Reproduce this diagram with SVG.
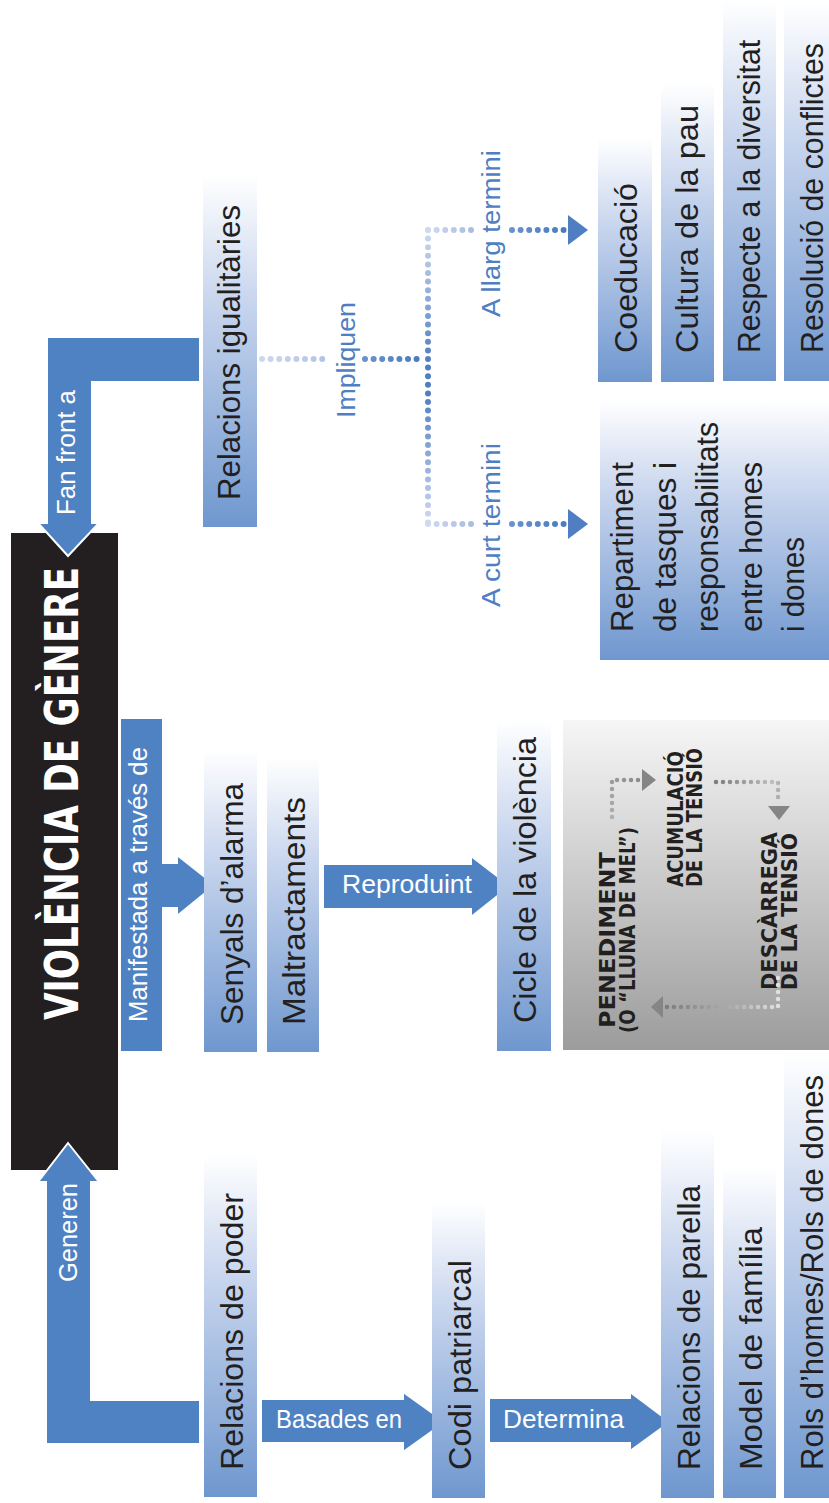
<svg xmlns="http://www.w3.org/2000/svg" width="829" height="1503" viewBox="0 0 829 1503">
<defs>
<linearGradient id="boxg" x1="0" y1="0" x2="0" y2="1">
<stop offset="0" stop-color="#ffffff"/>
<stop offset="0.35" stop-color="#c9d6ee"/>
<stop offset="1" stop-color="#6f97cf"/>
</linearGradient>
<linearGradient id="grayg" x1="0" y1="0" x2="0" y2="1">
<stop offset="0" stop-color="#f6f6f6"/>
<stop offset="1" stop-color="#9c9c9c"/>
</linearGradient>
<linearGradient id="vdots" gradientUnits="userSpaceOnUse" x1="0" y1="230" x2="0" y2="524">
<stop offset="0" stop-color="#d0daef"/>
<stop offset="0.45" stop-color="#4f7ec2"/>
<stop offset="0.55" stop-color="#4f7ec2"/>
<stop offset="1" stop-color="#d0daef"/>
</linearGradient>
<linearGradient id="hlight" gradientUnits="userSpaceOnUse" x1="262" y1="0" x2="325" y2="0">
<stop offset="0" stop-color="#cdd8ef"/>
<stop offset="1" stop-color="#b2c4e6"/>
</linearGradient>
<linearGradient id="hdark" gradientUnits="userSpaceOnUse" x1="365" y1="0" x2="420" y2="0">
<stop offset="0" stop-color="#6a91cc"/>
<stop offset="1" stop-color="#4a7bc0"/>
</linearGradient>
<linearGradient id="hlight2" gradientUnits="userSpaceOnUse" x1="428" y1="0" x2="472" y2="0">
<stop offset="0" stop-color="#d0daef"/>
<stop offset="1" stop-color="#a9bde3"/>
</linearGradient>
<linearGradient id="hdark2" gradientUnits="userSpaceOnUse" x1="510" y1="0" x2="565" y2="0">
<stop offset="0" stop-color="#6c93cd"/>
<stop offset="1" stop-color="#4a7bc0"/>
</linearGradient>
<linearGradient id="g1" gradientUnits="userSpaceOnUse" x1="600" y1="817" x2="640" y2="780">
<stop offset="0" stop-color="#b5b5b5"/>
<stop offset="1" stop-color="#8a8a8a"/>
</linearGradient>
<linearGradient id="g2" gradientUnits="userSpaceOnUse" x1="716" y1="782" x2="790" y2="803">
<stop offset="0" stop-color="#7d7d7d"/>
<stop offset="0.7" stop-color="#bdbdbd"/>
<stop offset="1" stop-color="#9a9a9a"/>
</linearGradient>
<linearGradient id="g3" gradientUnits="userSpaceOnUse" x1="665" y1="0" x2="778" y2="0">
<stop offset="0" stop-color="#7a7a7a"/>
<stop offset="0.6" stop-color="#b0b0b0"/>
<stop offset="1" stop-color="#e0e0e0"/>
</linearGradient>
<style>
.box{fill:url(#boxg)}
.lbl{font-family:"Liberation Sans","Open Sans",sans-serif;font-size:32px;fill:#231f20}
.wl{font-family:"Liberation Sans","Open Sans",sans-serif;font-size:25px;fill:#ffffff}
.bl{font-family:"Liberation Sans","Open Sans",sans-serif;font-size:25px;fill:#4f7ec2}
.arr{fill:#4f82c2;stroke:#ffffff;stroke-width:2;stroke-linejoin:miter}
.dot{fill:none;stroke-width:6;stroke-linecap:round;stroke-dasharray:0 8.6}
.gdot{fill:none;stroke-width:4.5;stroke-linecap:round;stroke-dasharray:0 7}
.hw{font-family:"DejaVu Sans Condensed","DejaVu Sans",sans-serif;font-size:21px;font-weight:bold;fill:#231f20}
</style>
</defs>
<rect width="829" height="1503" fill="#ffffff"/>

<g id="title">
<rect x="11" y="533" width="107" height="637" fill="#231f20"/>
<text transform="translate(78,1020) rotate(-90)" font-family="DejaVu Sans Condensed, DejaVu Sans, sans-serif" font-size="46" font-weight="bold" fill="#ffffff" textLength="453" lengthAdjust="spacingAndGlyphs">VIOLÈNCIA DE GÈNERE</text>
</g>

<g id="connectors">
<polygon class="arr" points="200,337 200,382 92,382 92,523 99,523 68,556 38,523 47,523 47,337"/>
<text class="wl" transform="translate(75,515) rotate(-90)" textLength="125" lengthAdjust="spacingAndGlyphs">Fan front a</text>
<polygon class="arr" points="200,1400 200,1444 46,1444 46,1182 38,1182 68,1143 99,1182 91,1182 91,1400"/>
<text class="wl" transform="translate(77,1282) rotate(-90)" textLength="99" lengthAdjust="spacingAndGlyphs">Generen</text>
<polygon class="arr" points="120,718 163,718 163,863 177,863 177,855 215,885 177,916 177,908 163,908 163,1052 120,1052"/>
<text class="wl" transform="translate(147,1022) rotate(-90)" textLength="275" lengthAdjust="spacingAndGlyphs">Manifestada a través de</text>
<polygon class="arr" points="261,1399 403,1399 403,1392 445,1422 403,1452 403,1443 261,1443"/>
<text class="wl" x="276" y="1428" textLength="126" lengthAdjust="spacingAndGlyphs">Basades en</text>
<polygon class="arr" points="489,1398 630,1398 630,1392 670,1422 630,1451 630,1443 489,1443"/>
<text class="wl" x="503" y="1428" textLength="121" lengthAdjust="spacingAndGlyphs">Determina</text>
<polygon class="arr" points="323,864 471,864 471,856 510,886 471,917 471,909 323,909"/>
<text class="wl" x="342" y="893" textLength="130" lengthAdjust="spacingAndGlyphs">Reproduint</text>

<line class="dot" x1="262" y1="359" x2="326" y2="359" stroke="url(#hlight)"/>
<text class="bl" transform="translate(355,418) rotate(-90)" textLength="116" lengthAdjust="spacingAndGlyphs">Impliquen</text>
<line class="dot" x1="365" y1="359" x2="425" y2="359" stroke="url(#hdark)"/>
<line class="dot" x1="428" y1="230" x2="428" y2="525" stroke="url(#vdots)"/>
<line class="dot" x1="428" y1="230" x2="472" y2="230" stroke="url(#hlight2)"/>
<line class="dot" x1="428" y1="524" x2="472" y2="524" stroke="url(#hlight2)"/>
<text class="bl" transform="translate(500,317) rotate(-90)" textLength="167" lengthAdjust="spacingAndGlyphs">A llarg termini</text>
<text class="bl" transform="translate(500,607) rotate(-90)" textLength="164" lengthAdjust="spacingAndGlyphs">A curt termini</text>
<line class="dot" x1="512" y1="230" x2="564" y2="230" stroke="url(#hdark2)"/>
<line class="dot" x1="512" y1="524" x2="564" y2="524" stroke="url(#hdark2)"/>
<polygon points="568,215 588,230 568,245" fill="#4f7ec2"/>
<polygon points="568,509 588,524 568,539" fill="#4f7ec2"/>
</g>

<g id="n-igualitaries">
<rect class="box" x="203" y="175" width="54" height="352"/>
<text class="lbl" transform="translate(240,500) rotate(-90)" textLength="295" lengthAdjust="spacingAndGlyphs">Relacions igualitàries</text>
</g>
<g id="n-poder">
<rect class="box" x="204" y="1155" width="53" height="342"/>
<text class="lbl" transform="translate(243,1470) rotate(-90)" textLength="277" lengthAdjust="spacingAndGlyphs">Relacions de poder</text>
</g>
<g id="n-codi">
<rect class="box" x="432" y="1202" width="53" height="296"/>
<text class="lbl" transform="translate(471,1470) rotate(-90)" textLength="210" lengthAdjust="spacingAndGlyphs">Codi patriarcal</text>
</g>
<g id="n-parella">
<rect class="box" x="661" y="1130" width="53" height="368"/>
<text class="lbl" transform="translate(700,1470) rotate(-90)" textLength="285" lengthAdjust="spacingAndGlyphs">Relacions de parella</text>
</g>
<g id="n-familia">
<rect class="box" x="723" y="1168" width="53" height="330"/>
<text class="lbl" transform="translate(762,1470) rotate(-90)" textLength="243" lengthAdjust="spacingAndGlyphs">Model de família</text>
</g>
<g id="n-rols">
<rect class="box" x="784" y="1053" width="45" height="445"/>
<text class="lbl" transform="translate(823,1470) rotate(-90)" textLength="395" lengthAdjust="spacingAndGlyphs">Rols d’homes/Rols de dones</text>
</g>
<g id="n-senyals">
<rect class="box" x="204" y="750" width="53" height="302"/>
<text class="lbl" transform="translate(243,1025) rotate(-90)" textLength="242" lengthAdjust="spacingAndGlyphs">Senyals d’alarma</text>
</g>
<g id="n-maltractaments">
<rect class="box" x="267" y="757" width="52" height="295"/>
<text class="lbl" transform="translate(305,1025) rotate(-90)" textLength="228" lengthAdjust="spacingAndGlyphs">Maltractaments</text>
</g>
<g id="n-cicle">
<rect class="box" x="497" y="720" width="54" height="331"/>
<text class="lbl" transform="translate(536,1023) rotate(-90)" textLength="286" lengthAdjust="spacingAndGlyphs">Cicle de la violència</text>
</g>
<g id="n-coeducacio">
<rect class="box" x="598" y="138" width="54" height="244"/>
<text class="lbl" transform="translate(637,353) rotate(-90)" textLength="170" lengthAdjust="spacingAndGlyphs">Coeducació</text>
</g>
<g id="n-pau">
<rect class="box" x="661" y="83" width="53" height="299"/>
<text class="lbl" transform="translate(698,353) rotate(-90)" textLength="248" lengthAdjust="spacingAndGlyphs">Cultura de la pau</text>
</g>
<g id="n-diversitat">
<rect class="box" x="723" y="0" width="53" height="381"/>
<text class="lbl" transform="translate(760,353) rotate(-90)" textLength="313" lengthAdjust="spacingAndGlyphs">Respecte a la diversitat</text>
</g>
<g id="n-conflictes">
<rect class="box" x="784" y="3" width="45" height="378"/>
<text class="lbl" transform="translate(823,353) rotate(-90)" textLength="310" lengthAdjust="spacingAndGlyphs">Resolució de conflictes</text>
</g>
<g id="n-repartiment">
<rect class="box" x="600" y="400" width="229" height="260"/>
<text class="lbl" transform="translate(633,632) rotate(-90)" textLength="170" lengthAdjust="spacingAndGlyphs">Repartiment</text>
<text class="lbl" transform="translate(676,632) rotate(-90)" textLength="170" lengthAdjust="spacingAndGlyphs">de tasques i</text>
<text class="lbl" transform="translate(718,632) rotate(-90)" textLength="210" lengthAdjust="spacingAndGlyphs">responsabilitats</text>
<text class="lbl" transform="translate(762,632) rotate(-90)" textLength="170" lengthAdjust="spacingAndGlyphs">entre homes</text>
<text class="lbl" transform="translate(804,632) rotate(-90)" textLength="95" lengthAdjust="spacingAndGlyphs">i dones</text>
</g>

<g id="cycle">
<rect x="563" y="720" width="266" height="330" fill="url(#grayg)"/>
<text class="hw" transform="translate(615,1028) rotate(-90)" textLength="176" lengthAdjust="spacingAndGlyphs">PENEDIMENT</text>
<text class="hw" transform="translate(635,1033) rotate(-90)" textLength="206" lengthAdjust="spacingAndGlyphs">(O “LLUNA DE MEL”)</text>
<text class="hw" transform="translate(683,887) rotate(-90)" textLength="136" lengthAdjust="spacingAndGlyphs">ACUMULACIÓ</text>
<text class="hw" transform="translate(702,887) rotate(-90)" textLength="139" lengthAdjust="spacingAndGlyphs">DE LA TENSIÓ</text>
<text class="hw" transform="translate(777,990) rotate(-90)" textLength="158" lengthAdjust="spacingAndGlyphs">DESCÀRREGA</text>
<text class="hw" transform="translate(797,990) rotate(-90)" textLength="157" lengthAdjust="spacingAndGlyphs">DE LA TENSIÓ</text>
<polyline class="gdot" points="612,817 612,780 640,780" stroke="url(#g1)"/>
<polygon points="642,769 656,780 642,791" fill="#858585"/>
<polyline class="gdot" points="716,782 778,782 778,803" stroke="url(#g2)"/>
<polygon points="768,806 790,806 779,820" fill="#858585"/>
<polyline class="gdot" points="778,978 778,1007 665,1007" stroke="url(#g3)"/>
<polygon points="663,996 663,1018 651,1007" fill="#858585"/>
</g>
</svg>
